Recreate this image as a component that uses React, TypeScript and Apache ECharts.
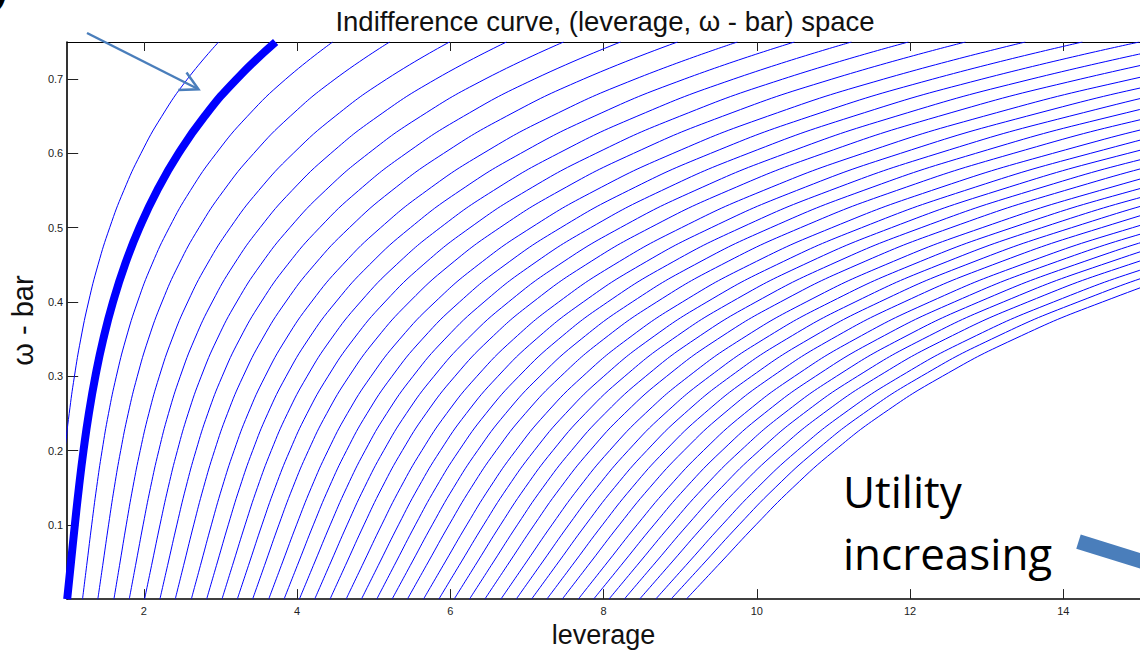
import React, { useEffect, useRef } from "react";
import * as echarts from "echarts";

// omega-bar levels at which each indifference curve is sampled
const omegaLevels = [0, 0.05, 0.1, 0.15, 0.2, 0.25, 0.3, 0.35, 0.4, 0.45, 0.5, 0.55, 0.6, 0.65, 0.7, 0.75];
// leverage of a curve at each omega level, relative to its leverage at omega = 0
const curveShape = [1.0, 1.05, 1.1, 1.153, 1.213, 1.283, 1.368, 1.471, 1.598, 1.753, 1.943, 2.173, 2.453, 2.793, 3.21, 3.72];
// leverage where each thin curve meets omega = 0
const thinIntercepts = [
  0.8, 1.2, 1.4, 1.61, 1.81, 2.01, 2.21, 2.41, 2.62, 2.82, 3.02, 3.22, 3.42, 3.63, 3.83, 4.03, 4.23,
  4.43, 4.64, 4.84, 5.04, 5.24, 5.44, 5.65, 5.85, 6.05, 6.25, 6.45, 6.66, 6.86, 7.06, 7.26, 7.46,
  7.67, 7.87, 8.07, 8.27, 8.47, 8.68, 8.88, 9.08,
];
// the highlighted (thick) curve
const thickIntercept = 1.0;

const xTicks = [2, 4, 6, 8, 10, 12, 14];
const yTicks = [0.1, 0.2, 0.3, 0.4, 0.5, 0.6, 0.7];

const titleText = "Indifference curve, (leverage, \u03c9 - bar) space";
const xName = "leverage";
const yName = "\u03c9 - bar";
const noteLine1 = "Utility";
const noteLine2 = "increasing";
const cutText = "y";

function curve(l0: number) {
  return omegaLevels.map((w, i) => [l0 * curveShape[i], w]);
}

export default function App() {
  const ref = useRef<HTMLDivElement>(null);
  useEffect(() => {
    const chart = echarts.init(ref.current!, undefined, { renderer: "svg" });
    const font = "'Liberation Sans', Arial, sans-serif";
    const arrowColor = "#4a7ebb";
    const series: any[] = thinIntercepts.map((l0) => ({
      type: "line",
      data: curve(l0),
      smooth: 0.5,
      showSymbol: false,
      silent: true,
      clip: true,
      lineStyle: { color: "#0000ff", width: 1 },
    }));
    series.push({
      type: "line",
      data: curve(thickIntercept),
      smooth: 0.5,
      showSymbol: false,
      silent: true,
      clip: true,
      z: 3,
      lineStyle: { color: "#0000ff", width: 8 },
    });

    const option: any = {
      animation: false,
      backgroundColor: "#ffffff",
      grid: { left: 61, right: -13, top: 42, bottom: 48, containLabel: false },
      xAxis: [
        {
          type: "value",
          min: 1,
          max: 15,
          position: "bottom",
          name: xName,
          nameLocation: "middle",
          nameGap: 15,
          nameTextStyle: { fontFamily: font, fontSize: 27, color: "#111", verticalAlign: "top" },
          axisLine: { show: true, onZero: false, lineStyle: { color: "#000", width: 1.6 } },
          axisTick: { show: true, inside: true, length: 10, customValues: xTicks, lineStyle: { color: "#222", width: 1 } },
          axisLabel: { show: true, customValues: xTicks, fontFamily: font, fontSize: 11, color: "#222", margin: 6 },
          splitLine: { show: false },
        },
        {
          type: "value",
          min: 1,
          max: 15,
          position: "top",
          axisLine: { show: true, onZero: false, lineStyle: { color: "#000", width: 1.2 } },
          axisTick: { show: true, inside: true, length: 9, customValues: xTicks, lineStyle: { color: "#222", width: 1 } },
          axisLabel: { show: false },
          splitLine: { show: false },
        },
      ],
      yAxis: {
        type: "value",
        min: 0,
        max: 0.75,
        name: yName,
        nameLocation: "middle",
        nameRotate: 90,
        nameGap: 27,
        nameTextStyle: { fontFamily: font, fontSize: 29, color: "#111" },
        axisLine: { show: true, onZero: false, lineStyle: { color: "#000", width: 1.6 } },
        axisTick: { show: true, inside: true, length: 11, customValues: yTicks, lineStyle: { color: "#222", width: 1 } },
        axisLabel: { show: true, customValues: yTicks, fontFamily: font, fontSize: 11, color: "#222", margin: 4 },
        splitLine: { show: false },
      },
      series,
      graphic: [
        {
          type: "text",
          x: 605,
          y: 21,
          z: 100,
          style: { text: titleText, fontFamily: font, fontSize: 27.5, fill: "#111", align: "center", verticalAlign: "middle" },
        },
        {
          type: "text",
          x: -10,
          y: -12,
          z: 100,
          style: { text: cutText, fontFamily: font, fontSize: 40, fontWeight: "bold", fill: "#000", align: "left", verticalAlign: "middle" },
        },
        {
          type: "text",
          x: 843,
          y: 491,
          z: 100,
          style: { text: noteLine1, fontFamily: "'Open Sans', sans-serif", fontSize: 44, fill: "#000", align: "left", verticalAlign: "middle" },
        },
        {
          type: "text",
          x: 843,
          y: 553,
          z: 100,
          style: { text: noteLine2, fontFamily: "'Open Sans', sans-serif", fontSize: 44, fill: "#000", align: "left", verticalAlign: "middle" },
        },
        {
          type: "line",
          z: 100,
          shape: { x1: 87, y1: 33, x2: 197, y2: 88.5 },
          style: { stroke: arrowColor, lineWidth: 2.5 },
        },
        {
          type: "polyline",
          z: 100,
          shape: { points: [[186.5, 72.5], [198.5, 89.3], [178.3, 90]] },
          style: { stroke: arrowColor, lineWidth: 2.5, fill: null },
        },
        {
          type: "line",
          z: 100,
          shape: { x1: 1078.5, y1: 541.7, x2: 1165, y2: 568.5 },
          style: { stroke: arrowColor, lineWidth: 15, lineCap: "butt" },
        },
      ],
    };
    chart.setOption(option);
    return () => chart.dispose();
  }, []);
  return (
    <div
      ref={ref}
      style={{ position: "absolute", left: 0, top: 0, width: 1140, height: 653, background: "#ffffff" }}
    />
  );
}
